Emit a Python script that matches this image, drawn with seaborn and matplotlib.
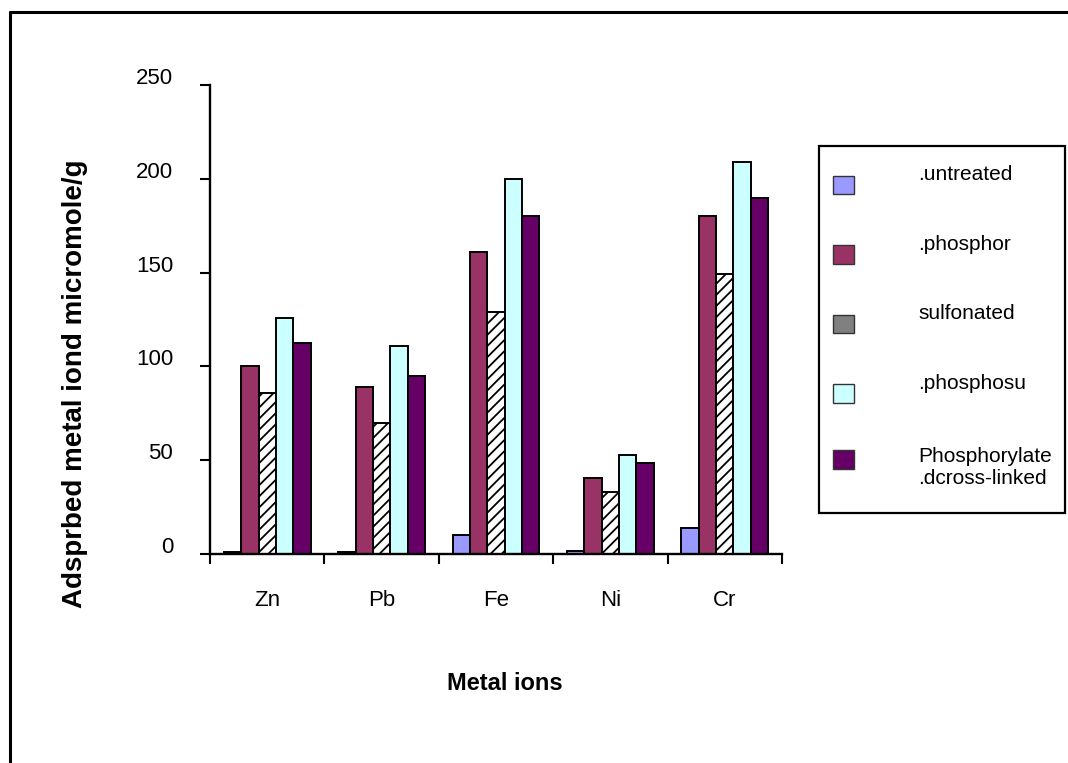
import matplotlib
matplotlib.use("Agg")
import matplotlib.pyplot as plt
import matplotlib.transforms as mtransforms
from matplotlib.lines import Line2D
from matplotlib.patches import Patch, Rectangle
import seaborn as sns
import pandas as pd

# Adsorbed amount of each metal ion for the five sorbents
metals = ["Zn", "Pb", "Fe", "Ni", "Cr"]
sorbents = [".untreated", ".phosphor", "sulfonated", ".phosphosu",
            "Phosphorylate\n.dcross-linked"]
untreated = [1, 1, 10, 1.5, 14]
phosphor = [100, 89, 161, 40.5, 180]
sulfonated = [86, 70, 129, 33, 149]
phosphosu = [126, 111, 200, 53, 209]
crosslinked = [112.5, 95, 180, 48.5, 190]
yticks = [0, 50, 100, 150, 200, 250]

colors = ["#9999FF", "#993366", "#FFFFFF", "#CCFFFF", "#660066"]
legend_colors = ["#9999FF", "#993366", "#808080", "#CCFFFF", "#660066"]

series = [untreated, phosphor, sulfonated, phosphosu, crosslinked]
rows = []
for name, vals in zip(sorbents, series):
    for m, v in zip(metals, vals):
        rows.append({"metal": m, "sorbent": name, "value": v})
df = pd.DataFrame(rows)

sns.set_style("white")
sans = ["Liberation Sans", "DejaVu Sans"]
plt.rcParams["font.family"] = sans
plt.rcParams["text.color"] = "black"
plt.rcParams["xtick.color"] = "black"
plt.rcParams["ytick.color"] = "black"
plt.rcParams["hatch.linewidth"] = 1.3
plt.rcParams["hatch.color"] = "black"

W, H = 1068, 763
fig = plt.figure(figsize=(W / 100, H / 100), dpi=100)
ax = fig.add_axes([210 / W, 1 - 554 / H, (782 - 210) / W, (554 - 85) / H])

sns.barplot(data=df, x="metal", y="value", hue="sorbent", order=metals,
            hue_order=sorbents, palette=colors, width=0.76,
            edgecolor="black", linewidth=1.4, saturation=1, ax=ax,
            legend=False)

# Diagonal hatching for the sulfonated series
for bar in ax.containers[2]:
    bar.set_facecolor("white")
    bar.set_hatch("///")

ax.set_xlim(-0.5, len(metals) - 0.5)
ax.set_ylim(0, 250)
ax.set_yticks(yticks)
ax.set_yticklabels([str(t) for t in yticks])

# Group separators as major ticks, category names at group centres
ax.set_xticks([i - 0.5 for i in range(len(metals) + 1)])
ax.set_xticklabels([])
ax.set_xticks(range(len(metals)), minor=True)
ax.set_xticklabels(metals, minor=True)
ax.tick_params(axis="x", which="major", direction="out", length=7.5,
               width=1.5, color="black", bottom=True)
ax.tick_params(axis="x", which="minor", length=0, pad=26, labelsize=16,
               labelcolor="black")
ax.tick_params(axis="y", direction="out", length=7.5, width=1.5,
               color="black", left=True, pad=19, labelsize=16,
               labelcolor="black")

shift = mtransforms.ScaledTranslation(0, 9 / 100, fig.dpi_scale_trans)
for lab in ax.get_yticklabels():
    lab.set_transform(lab.get_transform() + shift)

for side in ["top", "right"]:
    ax.spines[side].set_visible(False)
for side in ["left", "bottom"]:
    ax.spines[side].set_color("black")
    ax.spines[side].set_linewidth(1.7)

ax.set_xlabel("")
ax.set_ylabel("")
fig.text(505 / W, 1 - 683 / H, "Metal ions", ha="center", va="center",
         fontsize=17, fontweight="bold", color="black")
fig.text(75 / W, 1 - 384 / H, "Adsprbed metal iond micromole/g",
         rotation=90, ha="center", va="center", fontsize=20,
         fontweight="bold", color="black")

# Legend
handles = [Patch(facecolor=c, edgecolor="#333333", linewidth=1.0)
           for c in legend_colors]
leg = fig.legend(handles, sorbents, loc="upper left",
                 bbox_to_anchor=(812 / W, 1 - 155 / H), frameon=False,
                 prop={"family": sans, "size": 15},
                 handlelength=1.0, handleheight=1.0, handletextpad=3.1,
                 labelspacing=2.35, borderpad=0.5, labelcolor="black")
texts = leg.get_texts()
for t in texts[:4]:
    t.set_y(12)
texts[4].set_y(6)
# Raise the marker of the two-line entry (handle units are points)
last = leg.legend_handles[4]
last.set_y(last.get_y() + 15 * 72 / 100)

fig.add_artist(Rectangle((819 / W, 1 - 513 / H), (1065 - 819) / W,
                         (513 - 146) / H, transform=fig.transFigure,
                         fill=False, edgecolor="black", linewidth=1.6))

# Outer frame (top and left edges)
fig.add_artist(Line2D([10 / W, 1.0], [1 - 12 / H, 1 - 12 / H],
                      transform=fig.transFigure, color="black", lw=2.2))
fig.add_artist(Line2D([10 / W, 10 / W], [0, 1 - 12 / H],
                      transform=fig.transFigure, color="black", lw=2.2))

fig.savefig("out.png", dpi=100)
